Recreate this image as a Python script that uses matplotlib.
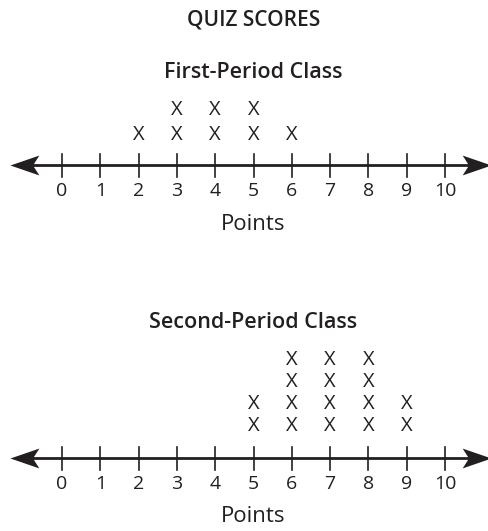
import matplotlib
matplotlib.use("Agg")
import matplotlib.pyplot as plt
from matplotlib.path import Path

# Quiz score data: score value and number of students with that score
first_scores = [2, 3, 4, 5, 6]
first_counts = [1, 2, 2, 2, 1]
second_scores = [5, 6, 7, 8, 9]
second_counts = [2, 4, 4, 4, 2]
tick_values = list(range(0, 11))

title = "QUIZ SCORES"
panel_titles = ["First-Period Class", "Second-Period Class"]
axis_label = "Points"

INK = "#231f20"
FONT = "Open Sans"

W, H = 488, 531
fig = plt.figure(figsize=(W / 100, H / 100), dpi=100)
ax = fig.add_axes([0, 0, 1, 1])
ax.set_xlim(-62 / 38.3, 10 + 43 / 38.3)
ax.set_ylim(H, 0)  # vertical layout in pixel rows, top at 0
ax.axis("off")

# concave arrowheads for the number line ends
left_head = Path([(-1.0, 0.0), (0.6, 0.55), (0.25, 0.0), (0.6, -0.55), (-1.0, 0.0)],
                 [Path.MOVETO, Path.LINETO, Path.LINETO, Path.LINETO, Path.CLOSEPOLY])
right_head = Path([(1.0, 0.0), (-0.6, 0.55), (-0.25, 0.0), (-0.6, -0.55), (1.0, 0.0)],
                  [Path.MOVETO, Path.LINETO, Path.LINETO, Path.LINETO, Path.CLOSEPOLY])

x_left = (14 - 62) / 38.3
x_right = (487 - 62) / 38.3


def number_line(axis_y, scores, counts, ptitle, title_y, first_off, step):
    ax.text(4.99, title_y, ptitle, ha="center", va="center", fontsize=15.5,
            fontweight="semibold", family=FONT, color=INK)
    ax.plot([x_left + 0.3, x_right - 0.3], [axis_y, axis_y], color=INK, lw=2.0,
            solid_capstyle="butt")
    ax.plot([x_left + 0.36], [axis_y], marker=left_head, markersize=26, color=INK, mew=0)
    ax.plot([x_right - 0.36], [axis_y], marker=right_head, markersize=26, color=INK, mew=0)
    for t in tick_values:
        ax.plot([t, t], [axis_y - 11.5, axis_y + 11.5], color=INK, lw=1.2)
        ax.text(t, axis_y + 26, str(t), ha="center", va="center", fontsize=14,
                family=FONT, color=INK)
    ax.text(5, axis_y + 59, axis_label, ha="center", va="center", fontsize=16,
            family=FONT, color=INK)
    for s, c in zip(scores, counts):
        for k in range(c):
            ax.text(s, axis_y - first_off - k * step, "X", ha="center", va="center",
                    fontsize=14.5, family=FONT, color=INK)


ax.text(5.0, 20, title, ha="center", va="center", fontsize=15,
        fontweight="semibold", family=FONT, color=INK)
number_line(165, first_scores, first_counts, panel_titles[0], 72, 30, 25)
number_line(458, second_scores, second_counts, panel_titles[1], 322, 32, 22)

fig.savefig("out.png", dpi=100, facecolor="white")
